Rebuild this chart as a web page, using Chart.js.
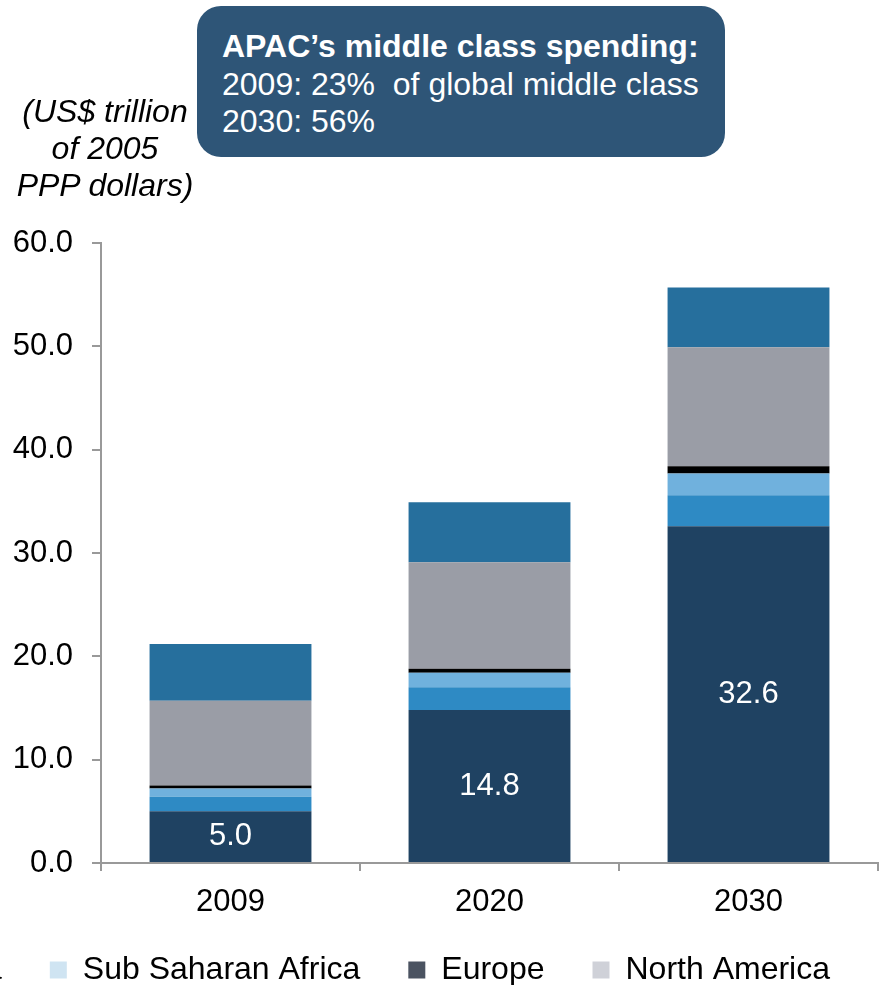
<!DOCTYPE html>
<html>
<head>
<meta charset="utf-8">
<script src="https://cdn.jsdelivr.net/npm/chart.js@4/dist/chart.umd.min.js"></script>
<style>
  html, body { margin: 0; padding: 0; width: 880px; height: 985px; overflow: hidden; background: #fff; }
  #wrap { position: absolute; left: -1400px; top: 0; width: 2280px; height: 996px; }
  .unidad {
    position: absolute; left: 0; top: 93px; width: 210px;
    font: italic 32px "Liberation Sans", Arial, sans-serif; line-height: 37px;
    text-align: center; color: #000;
  }
  .globo {
    position: absolute; left: 197px; top: 6px; width: 528px; height: 151px;
    box-sizing: border-box; padding: 22px 0 0 25px;
    background: #2e5577; border-radius: 24px; color: #fff;
    font: 32px "Liberation Sans", Arial, sans-serif; line-height: 37.5px;
  }
  .globo b { font-weight: bold; }
</style>
</head>
<body>
<div id="wrap"><canvas id="grafica" width="2280" height="996"></canvas></div>
<div class="unidad">(US$ trillion<br>of 2005<br>PPP dollars)</div>
<div class="globo"><b>APAC’s middle class spending:</b><br>2009: 23%&nbsp; of global middle class<br>2030: 56%</div>

<script>
// --- datos (US$ billones de dólares PPP 2005) ---
const anios = ['2009', '2020', '2030'];
const apac = [5.0, 14.8, 32.6];
const centroSurAmerica = [1.4, 2.2, 3.0];
const medioOrienteNorteAfrica = [0.8, 1.4, 2.1];
const africaSubsahariana = [0.3, 0.4, 0.7];
const europa = [8.2, 10.3, 11.5];
const norteAmerica = [5.5, 5.8, 5.8];
const ticksY = [0, 10, 20, 30, 40, 50, 60];

const nombres = ['APAC', 'Central & South America', 'Middle East & North Africa', 'Sub Saharan Africa', 'Europe', 'North America'];
const coloresBarra = ['#1f4262', '#2e8ac4', '#70b1dd', '#000000', '#9a9da6', '#266f9d'];
const coloresLeyenda = ['#1f4262', '#2e8ac4', '#70b1dd', '#cfe4f2', '#4b5361', '#cfd1d8'];
const series = [apac, centroSurAmerica, medioOrienteNorteAfrica, africaSubsahariana, europa, norteAmerica];

const FUENTE = '"Liberation Sans", Arial, sans-serif';

// etiquetas blancas dentro del segmento APAC
const etiquetasAPAC = {
    id: 'etiquetasAPAC',
    afterDatasetsDraw(chart) {
        const ctx = chart.ctx;
        const meta = chart.getDatasetMeta(0);
        ctx.save();
        ctx.fillStyle = '#fff';
        ctx.font = '31px ' + FUENTE;
        ctx.textAlign = 'center';
        ctx.textBaseline = 'middle';
        meta.data.forEach((barra, i) => {
            const y = (barra.y + barra.base) / 2;
            ctx.fillText(apac[i].toFixed(1), barra.x, y);
        });
        ctx.restore();
    }
};

new Chart(document.getElementById('grafica'), {
    type: 'bar',
    data: {
        labels: anios,
        datasets: series.map((valores, i) => ({
            label: nombres[i],
            data: valores,
            backgroundColor: coloresBarra[i],
            borderWidth: 0,
            barPercentage: 0.625,
            categoryPercentage: 1.0
        }))
    },
    options: {
        responsive: false,
        animation: false,
        devicePixelRatio: 1,
        layout: { padding: { top: 243, right: 2, left: 0, bottom: 0 } },
        plugins: {
            tooltip: { enabled: false },
            legend: {
                position: 'bottom',
                align: 'end',
                labels: {
                    color: '#000',
                    font: { size: 32, family: FUENTE },
                    boxWidth: 17,
                    boxHeight: 17,
                    padding: 48,
                    generateLabels(chart) {
                        return Chart.defaults.plugins.legend.labels.generateLabels(chart).map((it, i) => {
                            it.fillStyle = coloresLeyenda[i];
                            it.strokeStyle = coloresLeyenda[i];
                            it.lineWidth = 0;
                            return it;
                        });
                    }
                }
            }
        },
        scales: {
            x: {
                stacked: true,
                afterFit(scale) { scale.height = 43; },
                grid: { drawOnChartArea: false, offset: true, tickLength: 8, color: '#999', lineWidth: 2 },
                border: { color: '#999', width: 2 },
                // mirror + padding negativo: evita el recorte de las etiquetas bajo el eje
                ticks: { color: '#000', font: { size: 31, family: FUENTE }, mirror: true, padding: -58 }
            },
            y: {
                stacked: true,
                min: 0,
                max: 60,
                afterFit(scale) { scale.width = 1501; },
                afterBuildTicks(scale) { scale.ticks = ticksY.map(v => ({ value: v })); },
                grid: { drawOnChartArea: false, tickLength: 9, color: '#999', lineWidth: 2 },
                border: { color: '#999', width: 2 },
                ticks: {
                    color: '#000',
                    font: { size: 31, family: FUENTE },
                    padding: 19,
                    callback: v => Number(v).toFixed(1)
                }
            }
        }
    },
    plugins: [etiquetasAPAC]
});
</script>
</body>
</html>
